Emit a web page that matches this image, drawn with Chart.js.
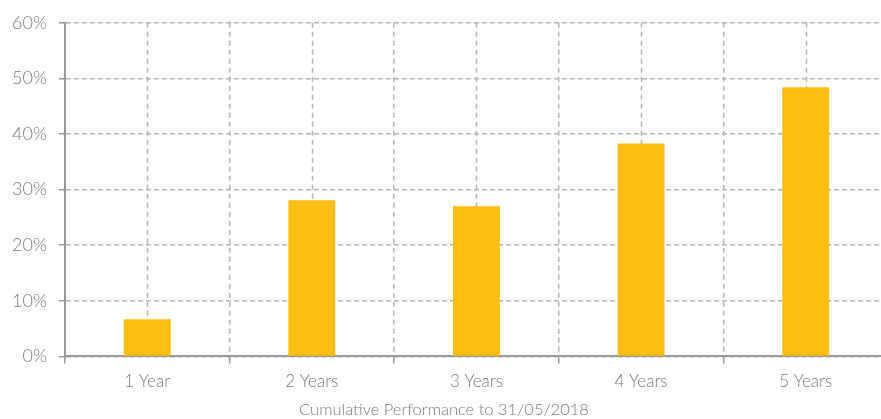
<!DOCTYPE html>
<html>
<head>
<meta charset="utf-8">
<script src="https://cdn.jsdelivr.net/npm/chart.js@4"></script>
<style>
  html, body { margin: 0; padding: 0; background: #fff; overflow: hidden; }
  #wrap { width: 888px; height: 419px; }
</style>
</head>
<body>
<div id="wrap"><canvas id="chart"></canvas></div>
<script>
const categories = ['1 Year', '2 Years', '3 Years', '4 Years', '5 Years'];
const performance = [6.7, 28.1, 27.0, 38.3, 48.4];
const yTicks = [0, 10, 20, 30, 40, 50, 60];
const chartCaption = 'Cumulative Performance to 31/05/2018';

const textColor = '#7a7a7a';
const gridColor = '#b4b4b4';
const axisColor = '#999999';
const fontFamily = 'Lato, "Open Sans", sans-serif';

// dashed vertical lines through the middle of each category
const centerLines = {
    id: 'centerLines',
    beforeDatasetsDraw(chart) {
        const ctx = chart.ctx;
        const area = chart.chartArea;
        const x = chart.scales.x;
        ctx.save();
        ctx.strokeStyle = gridColor;
        ctx.lineWidth = 1.5;
        ctx.setLineDash([5, 4]);
        categories.forEach((c, i) => {
            const px = Math.round(x.getPixelForValue(i)) + 0.5;
            ctx.beginPath();
            ctx.moveTo(px, area.top);
            ctx.lineTo(px, area.bottom);
            ctx.stroke();
        });
        ctx.restore();
    }
};

new Chart(document.getElementById('chart'), {
    type: 'bar',
    data: {
        labels: categories,
        datasets: [{
            data: performance,
            backgroundColor: '#fdbe13',
            borderWidth: 0,
            barPercentage: 0.57,
            categoryPercentage: 0.5
        }]
    },
    options: {
        responsive: true,
        maintainAspectRatio: false,
        animation: false,
        layout: { padding: { top: 14, right: 0, left: 0, bottom: 0 } },
        plugins: {
            legend: { display: false },
            tooltip: { enabled: false },
            title: {
                display: true,
                position: 'bottom',
                text: chartCaption,
                color: textColor,
                font: { family: fontFamily, size: 16.5, weight: 300, lineHeight: 1.1 },
                padding: { top: 1, bottom: 0 }
            }
        },
        scales: {
            x: {
                grid: {
                    offset: true,
                    color: gridColor,
                    lineWidth: 1.5,
                    tickLength: 7,
                    tickColor: axisColor,
                    tickBorderDash: []
                },
                border: { color: axisColor, width: 2, dash: [5, 4] },
                ticks: {
                    color: textColor,
                    font: { family: fontFamily, size: 17, weight: 300 },
                    padding: 8
                }
            },
            y: {
                min: 0,
                max: 60,
                afterBuildTicks(scale) {
                    scale.ticks = yTicks.map(v => ({ value: v }));
                },
                grid: {
                    color: gridColor,
                    lineWidth: 1.5,
                    tickLength: 6,
                    tickColor: axisColor,
                    tickBorderDash: []
                },
                border: { color: axisColor, width: 2, dash: [5, 3] },
                ticks: {
                    color: textColor,
                    font: { family: fontFamily, size: 18, weight: 300 },
                    padding: 12,
                    callback: v => v + '%'
                }
            }
        }
    },
    plugins: [centerLines]
});
</script>
</body>
</html>
